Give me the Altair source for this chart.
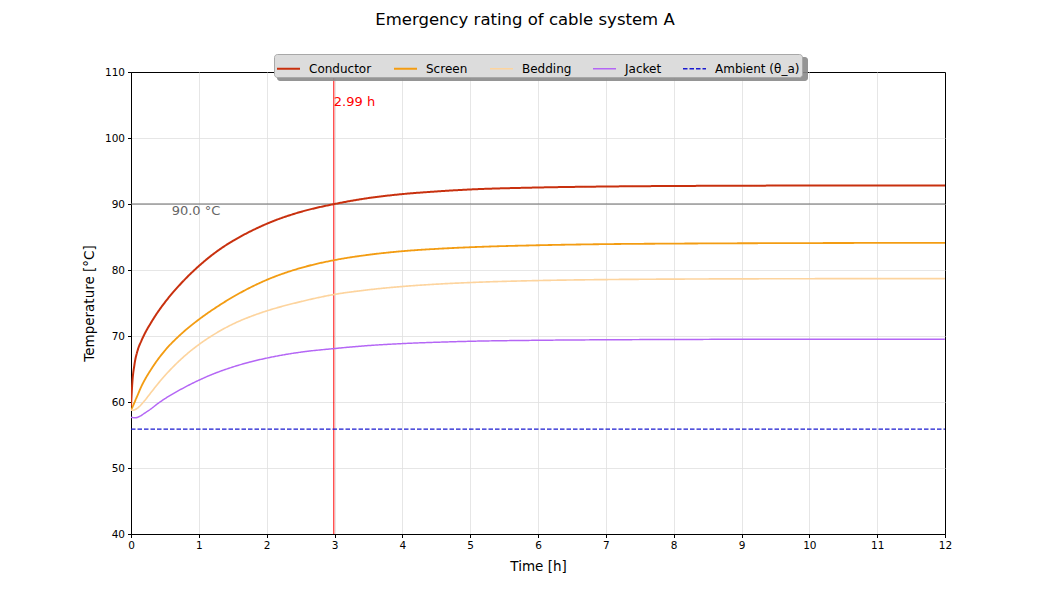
import altair as alt
import pandas as pd

# ---- data ----
time_h = [0, 0.02, 0.05, 0.1, 0.15, 0.2, 0.3, 0.4, 0.5, 0.75, 1, 1.25, 1.5, 1.75, 2, 2.5, 3, 3.5, 4, 4.5, 5, 6, 7, 8, 9, 10, 11, 12]
conductor = [59.3, 63.0, 65.6, 67.9, 69.2, 70.3, 72.1, 73.7, 75.1, 78.1, 80.6, 82.7, 84.4, 85.8, 87.0, 88.8, 90.0, 90.9, 91.5, 91.9, 92.2, 92.5, 92.65, 92.73, 92.77, 92.8, 92.8, 92.8]
screen = [58.8, 59.2, 59.9, 61.1, 62.3, 63.3, 65.0, 66.5, 67.8, 70.4, 72.5, 74.3, 75.9, 77.3, 78.5, 80.3, 81.5, 82.3, 82.85, 83.2, 83.45, 83.75, 83.92, 84.0, 84.05, 84.08, 84.1, 84.1]
bedding = [58.8, 58.75, 58.8, 59.1, 59.6, 60.2, 61.5, 62.8, 64.0, 66.6, 68.7, 70.4, 71.8, 72.9, 73.8, 75.2, 76.3, 77.0, 77.5, 77.85, 78.1, 78.4, 78.55, 78.62, 78.66, 78.68, 78.7, 78.7]
jacket = [57.7, 57.65, 57.6, 57.7, 57.95, 58.3, 59.0, 59.8, 60.5, 62.0, 63.3, 64.4, 65.3, 66.05, 66.65, 67.55, 68.1, 68.55, 68.85, 69.05, 69.2, 69.35, 69.43, 69.47, 69.5, 69.5, 69.5, 69.5]
ambient_time = [0, 12]
ambient_temp = [55.9, 55.9]

series_names = ["Conductor", "Screen", "Bedding", "Jacket", "Ambient (θ_a)"]
series_colors = ["#c8300e", "#f39c12", "#fdd49e", "#b466f5", "#1a1ad0"]
series_widths = [2.0, 1.3, 1.3, 1.3, 1.2]
series_dash = [[1, 0], [1, 0], [1, 0], [1, 0], [4.5, 2]]

limit_temp = [90.0]
limit_label = ["90.0 °C"]
limit_label_x = [0.6]
time_to_limit = [2.99]
time_label = ["2.99 h"]
time_label_y = [105.6]

x_ticks = list(range(0, 13))
y_ticks = list(range(40, 111, 10))

# ---- long table ----
rows = []
for name, vals in zip(series_names[:4], [conductor, screen, bedding, jacket]):
    for t, v in zip(time_h, vals):
        rows.append({"t": t, "T": v, "series": name})
for t, v in zip(ambient_time, ambient_temp):
    rows.append({"t": t, "T": v, "series": series_names[4]})
df = pd.DataFrame(rows)

FONT = "DejaVu Sans"

x_scale = alt.Scale(domain=[0, 12], nice=False, zero=False)
y_scale = alt.Scale(domain=[40, 110], nice=False, zero=False)

x_axis = alt.Axis(
    title="Time [h]", values=x_ticks, format="d", grid=True, labelFlush=False,
    gridOpacity={"condition": {"test": "datum.value == 0 || datum.value == 12", "value": 0}, "value": 1},
)
y_axis = alt.Axis(
    title="Temperature [°C]", values=y_ticks, format="d", grid=True, labelFlush=False,
    gridOpacity={"condition": {"test": "datum.value == 40 || datum.value == 110", "value": 0}, "value": 1},
)

legend = alt.Legend(
    title=None,
    orient="none",
    legendX=143,
    legendY=-18,
    direction="horizontal",
    columns=5,
    symbolType="stroke",
    symbolSize=529,
    labelFont=FONT,
    labelFontSize=12,
    labelColor="#000000",
    labelOffset=8,
    columnPadding=18,
    padding=2,
    fillColor="#dcdcdc",
    strokeColor="#a8a8a8",
    cornerRadius=3,
)

# legend drop shadow (decoration, pixel offsets relative to the plot area)
shadow = alt.Chart(pd.DataFrame({"k": [0]})).mark_rect(
    color="#8a8a8a", cornerRadius=3, opacity=0.9
).encode(x=alt.value(146), x2=alt.value(677), y=alt.value(-15), y2=alt.value(9))

lines = alt.Chart(df).mark_line(interpolate="monotone", clip=True).encode(
    x=alt.X("t:Q", scale=x_scale, axis=x_axis),
    y=alt.Y("T:Q", scale=y_scale, axis=y_axis),
    color=alt.Color("series:N", scale=alt.Scale(domain=series_names, range=series_colors), legend=legend),
    strokeDash=alt.StrokeDash("series:N", scale=alt.Scale(domain=series_names, range=series_dash), legend=legend),
    strokeWidth=alt.StrokeWidth("series:N", scale=alt.Scale(domain=series_names, range=series_widths), legend=legend),
    order=alt.Order("t:Q"),
)

limit_df = pd.DataFrame({"T": limit_temp, "label": limit_label, "lx": limit_label_x})
limit_rule = alt.Chart(limit_df).mark_rule(color="#6a6a6a", strokeWidth=1).encode(y=alt.Y("T:Q", scale=y_scale))
limit_text = alt.Chart(limit_df).mark_text(
    align="left", baseline="top", dy=1, font=FONT, fontSize=13, color="#666666"
).encode(x=alt.X("lx:Q", scale=x_scale), y=alt.Y("T:Q", scale=y_scale), text="label:N")

time_df = pd.DataFrame({"t": time_to_limit, "label": time_label, "ly": time_label_y})
time_rule = alt.Chart(time_df).mark_rule(color="#ff0000", strokeWidth=1).encode(x=alt.X("t:Q", scale=x_scale))
time_text = alt.Chart(time_df).mark_text(
    align="left", baseline="middle", dx=0, dy=1, font=FONT, fontSize=13, color="#ff0000"
).encode(x=alt.X("t:Q", scale=x_scale), y=alt.Y("ly:Q", scale=y_scale), text="label:N")

chart = alt.layer(limit_rule, time_rule, lines, limit_text, time_text, shadow).properties(
    width=814,
    height=462,
    title=alt.TitleParams(
        "Emergency rating of cable system A",
        font=FONT, fontSize=16.5, fontWeight="normal", color="#000000",
        anchor="middle", frame="group", dx=-13, offset=25,
    ),
    autosize=alt.AutoSizeParams(type="none"),
    padding={"left": 131, "top": 72, "right": 105, "bottom": 66},
    background="#ffffff",
).configure_view(
    stroke="#000000", strokeWidth=1
).configure_axis(
    domainColor="#000000",
    domainWidth=1,
    tickColor="#000000",
    tickSize=3.5,
    tickWidth=1,
    labelFont=FONT,
    labelFontSize=10.5,
    labelColor="#000000",
    labelPadding=3,
    titleFont=FONT,
    titleFontSize=13.5,
    titleFontWeight="normal",
    titleColor="#000000",
    gridColor="#e0e0e0",
    gridWidth=0.8,
).configure_axisX(titlePadding=8).configure_axisY(titlePadding=8)

chart.save("out.html", embed_options={"renderer": "svg", "actions": False})
